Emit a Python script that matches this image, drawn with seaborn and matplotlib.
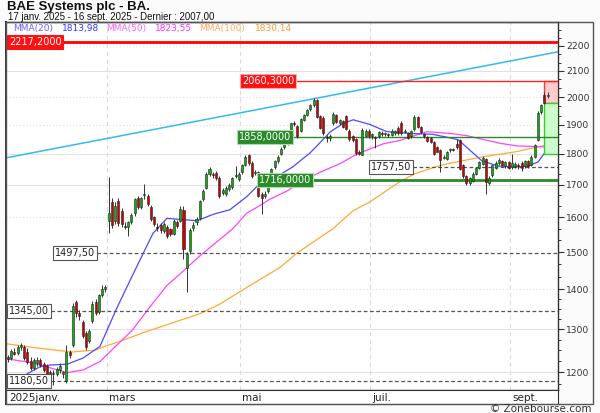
import numpy as np
import pandas as pd
import matplotlib
matplotlib.use("Agg")
import matplotlib.pyplot as plt
from matplotlib.patches import Rectangle
from matplotlib.ticker import FixedLocator, FuncFormatter, NullFormatter
import seaborn as sns

sns.set_style("white")
plt.rcParams['font.family'] = ['DejaVu Sans']

# daily candles, 17 janv. 2025 -> 16 sept. 2025 (trading day index 0..166)
opens = [1235, 1232, 1246, 1244, 1258, 1258, 1245, 1225, 1210, 1220,
         1228, 1218, 1214, 1200, 1195, 1196, 1205, 1195, 1180, 1245,
         1262, 1368, 1340, 1318, 1290, 1272, 1320, 1368, 1342, 1385,
         1400, 1588, 1645, 1590, 1650, 1620, 1575, 1572, 1585, 1612,
         1658, 1632, 1668, 1665, 1632, 1600, 1572, 1578, 1560, 1572,
         1566, 1552, 1585, 1590, 1623, 1455, 1502, 1568, 1585, 1598,
         1655, 1690, 1735, 1735, 1738, 1722, 1675, 1672, 1688, 1692,
         1728, 1718, 1740, 1765, 1795, 1770, 1738, 1741, 1672, 1665,
         1680, 1710, 1758, 1775, 1800, 1825, 1838, 1860, 1905, 1895,
         1880, 1918, 1935, 1955, 1970, 1990, 1930, 1925, 1858, 1855,
         1908, 1935, 1905, 1915, 1930, 1880, 1860, 1850, 1805, 1798,
         1862, 1880, 1860, 1858, 1860, 1872, 1868, 1868, 1866, 1872,
         1890, 1908, 1875, 1870, 1860, 1885, 1929, 1892, 1868, 1858,
         1855, 1841, 1822, 1812, 1788, 1783, 1812, 1815, 1835, 1848,
         1763, 1727, 1705, 1712, 1735, 1755, 1767, 1783, 1706, 1730,
         1755, 1770, 1775, 1760, 1772, 1758, 1760, 1765, 1770, 1760,
         1775, 1765, 1790, 1848, 1946, 2009, 2005]
highs = [1240, 1252, 1256, 1262, 1268, 1262, 1255, 1235, 1232, 1234,
         1232, 1222, 1218, 1205, 1205, 1212, 1220, 1202, 1262, 1250,
         1365, 1372, 1348, 1322, 1295, 1300, 1370, 1374, 1388, 1410,
         1412, 1723, 1660, 1645, 1660, 1628, 1585, 1590, 1612, 1660,
         1665, 1662, 1703, 1670, 1638, 1605, 1582, 1582, 1585, 1578,
         1570, 1595, 1592, 1633, 1633, 1500, 1570, 1585, 1602, 1652,
         1685, 1740, 1758, 1742, 1745, 1728, 1690, 1695, 1705, 1725,
         1760, 1740, 1768, 1795, 1800, 1775, 1748, 1745, 1678, 1680,
         1705, 1755, 1780, 1795, 1822, 1845, 1858, 1908, 1915, 1900,
         1925, 1940, 1958, 1975, 1997, 1995, 1935, 1930, 1865, 1868,
         1945, 1940, 1922, 1918, 1934, 1885, 1865, 1855, 1812, 1888,
         1885, 1885, 1872, 1862, 1880, 1878, 1876, 1872, 1885, 1882,
         1895, 1912, 1885, 1875, 1882, 1935, 1932, 1895, 1872, 1862,
         1858, 1845, 1826, 1816, 1795, 1810, 1820, 1820, 1851, 1852,
         1768, 1730, 1724, 1740, 1758, 1778, 1792, 1788, 1728, 1765,
         1775, 1785, 1780, 1776, 1776, 1800, 1772, 1770, 1775, 1780,
         1780, 1795, 1835, 1950, 1975, 2020, 2020]
lows = [1222, 1228, 1238, 1240, 1250, 1228, 1218, 1205, 1205, 1215,
        1212, 1200, 1190, 1185, 1172, 1192, 1198, 1188, 1176, 1232,
        1258, 1330, 1322, 1278, 1250, 1268, 1315, 1335, 1338, 1380,
        1392, 1553, 1570, 1580, 1575, 1572, 1565, 1545, 1580, 1605,
        1625, 1625, 1655, 1635, 1590, 1575, 1560, 1555, 1555, 1540,
        1545, 1548, 1570, 1585, 1480, 1394, 1495, 1560, 1578, 1592,
        1650, 1685, 1728, 1722, 1715, 1660, 1668, 1665, 1680, 1688,
        1722, 1712, 1735, 1760, 1765, 1722, 1730, 1662, 1610, 1658,
        1675, 1705, 1750, 1770, 1795, 1815, 1830, 1855, 1895, 1855,
        1875, 1912, 1930, 1948, 1965, 1925, 1885, 1865, 1841, 1845,
        1900, 1905, 1900, 1888, 1882, 1845, 1842, 1798, 1795, 1795,
        1858, 1855, 1852, 1820, 1855, 1862, 1860, 1858, 1862, 1865,
        1865, 1865, 1870, 1850, 1855, 1880, 1890, 1870, 1855, 1840,
        1838, 1798, 1805, 1741, 1782, 1780, 1808, 1810, 1815, 1748,
        1722, 1700, 1700, 1708, 1730, 1750, 1762, 1670, 1700, 1725,
        1750, 1765, 1760, 1755, 1750, 1752, 1755, 1752, 1745, 1755,
        1755, 1760, 1785, 1845, 1940, 1975, 1998]
closes = [1230, 1248, 1242, 1258, 1262, 1232, 1222, 1210, 1228, 1228,
          1216, 1205, 1194, 1192, 1198, 1208, 1215, 1200, 1246, 1240,
          1356, 1340, 1332, 1284, 1258, 1295, 1362, 1340, 1384, 1400,
          1406, 1612, 1578, 1635, 1582, 1580, 1572, 1585, 1608, 1655,
          1632, 1658, 1672, 1640, 1595, 1580, 1570, 1562, 1580, 1546,
          1552, 1588, 1575, 1625, 1508, 1495, 1564, 1578, 1595, 1648,
          1680, 1735, 1752, 1730, 1720, 1665, 1682, 1690, 1700, 1720,
          1732, 1735, 1764, 1790, 1770, 1727, 1742, 1665, 1660, 1672,
          1700, 1750, 1775, 1790, 1818, 1835, 1852, 1905, 1902, 1860,
          1920, 1935, 1954, 1970, 1990, 1929, 1890, 1870, 1855, 1862,
          1940, 1910, 1918, 1892, 1887, 1850, 1848, 1802, 1799, 1883,
          1880, 1860, 1868, 1855, 1875, 1868, 1872, 1864, 1880, 1878,
          1870, 1870, 1880, 1855, 1880, 1929, 1893, 1876, 1860, 1845,
          1842, 1800, 1808, 1780, 1790, 1807, 1815, 1814, 1825, 1751,
          1727, 1706, 1720, 1735, 1755, 1774, 1785, 1710, 1722, 1762,
          1770, 1780, 1765, 1772, 1755, 1770, 1768, 1760, 1755, 1775,
          1760, 1790, 1830, 1944, 1970, 1980, 2007]

# moving averages (day index, value)
ma20_day = [5.8, 9.8, 12.9, 18.2, 23.1, 28.3, 33.5, 38.5, 44.6, 48.9, 52.9, 58.2, 63.1,
            68.3, 73.5, 76.6, 80.6, 83.7, 87.7, 90.8, 92.9, 96, 99.1, 103.1, 106.2, 111.4,
            116.6, 123.7, 130.5, 135.4, 138.5, 145.8, 150.8, 156, 160, 163.1, 165.8]
ma20_val = [1196, 1212, 1216, 1218, 1232, 1259, 1352, 1440, 1553, 1597, 1594, 1590, 1609,
            1623, 1663, 1695, 1728, 1732, 1758, 1785, 1803, 1838, 1875, 1905, 1918, 1901,
            1876, 1870, 1867, 1856, 1848, 1777, 1760, 1757, 1760, 1774, 1813.98]
ma50_day = [0, 7.7, 12.9, 18.2, 23.1, 28.3, 33.5, 38.2, 43.7, 48.9, 52.9, 59.1, 63.1, 69.2,
            73.5, 76.6, 80.6, 85.8, 90.8, 96, 102.2, 107.4, 115.4, 120.6, 128.9, 136, 141.2,
            151.4, 156.6, 165.8]
ma50_val = [1230, 1221, 1210, 1199, 1205, 1224, 1262, 1297, 1355, 1410, 1440, 1490, 1520, 1567,
            1613, 1630, 1655, 1680, 1712, 1740, 1768, 1800, 1834, 1846, 1876, 1870, 1862,
            1836, 1827, 1823.55]
ma100_day = [-0.3, 9.2, 19.7, 26.8, 29.8, 34.5, 42.2, 59.1, 65.2, 74.5, 83.7, 88.9, 100,
             106.2, 111.4, 120.6, 125.2, 131.4, 135.4, 145.8, 156, 165.8]
ma100_val = [1265, 1255, 1246, 1250, 1259, 1271, 1293, 1338, 1362, 1410, 1458, 1497, 1567,
             1620, 1647, 1710, 1735, 1757, 1768, 1790, 1807, 1830.14]

trend_day = [-0.6, 169.2]
trend_val = [1787, 2176]

month_labels = ["2025janv.", "mars", "mai", "juil.", "sept."]
month_day = [0, 31, 72, 112, 155]

res_levels = [2217.2, 2060.3]
sup_levels = [1858.0, 1716.0]
dash_levels = [1757.5, 1497.5, 1345.0, 1180.5]
target_top, target_mid, target_low = 2060.3, 1978.0, 1800.0

W, H = 600, 413
def fx(px):
    return px / W
def fy(py):
    return 1 - py / H

df = pd.DataFrame({'open': opens, 'high': highs, 'low': lows, 'close': closes})
df['day'] = np.arange(len(df))
XMIN, XMAX = -0.6, 169.2

fig = plt.figure(figsize=(6.0, 4.13), dpi=100, facecolor='#fbfbfb')
ax = fig.add_axes([fx(6), fy(390), fx(552), 368 / H])
ax.set_facecolor('white')
ax.set_yscale('log')
ax.set_xlim(XMIN, XMAX)
ax.set_ylim(1161, 2300)

# grid
for p in [1200, 1300, 1700, 1800, 2100]:
    ax.axhline(p, color='#e2e2e2', lw=0.8, zorder=0)
for p in [1400, 1600, 1900, 2000, 2200]:
    ax.axhline(p, color='#efd6d6', lw=0.8, ls=(0, (1, 2)), zorder=0)
for d in month_day[1:]:
    ax.axvline(d - 0.5, color='#dcdcdc', lw=0.8, ls=(0, (4, 3)), zorder=0)

# trend line and moving averages
sns.lineplot(x=trend_day, y=trend_val, ax=ax, color='#33bbee', lw=1.1, zorder=2)
sns.lineplot(x=ma100_day, y=ma100_val, ax=ax, color='#ffaa33', lw=0.9, zorder=3)
sns.lineplot(x=ma50_day, y=ma50_val, ax=ax, color='#ff44ff', lw=0.9, zorder=3)
sns.lineplot(x=ma20_day, y=ma20_val, ax=ax, color='#4a4aff', lw=0.9, zorder=3)

# horizontal levels
ax.hlines(res_levels[0], XMIN, XMAX, color='#ff0000', lw=2, zorder=4)
ax.hlines(res_levels[1], 71.4, XMAX, color='#ff2222', lw=1, zorder=4)
ax.hlines(sup_levels[0], 70.5, XMAX, color='#2a8a2a', lw=1, zorder=4)
ax.hlines(sup_levels[1], 76.6, XMAX, color='#2a8a2a', lw=2, zorder=4)
dash_start = [111.1, 13.8, -0.3, -0.3]
for p, s in zip(dash_levels, dash_start):
    ax.hlines(p, s, XMAX, color='#555555', lw=0.9, ls=(0, (3, 2)), zorder=4)

# target boxes
ax.add_patch(Rectangle((164.8, target_mid), XMAX - 164.8, target_top - target_mid,
                       facecolor='#ffcccc', edgecolor='#ff3333', lw=1, zorder=3))
ax.add_patch(Rectangle((164.8, target_low), XMAX - 164.8, target_mid - target_low,
                       facecolor='#ccffcc', edgecolor='#33cc33', lw=1, zorder=3))

# candles
up = df['close'] >= df['open']
body_low = df[['open', 'close']].min(axis=1)
body_h = (df['close'] - df['open']).abs().clip(lower=2)
ax.vlines(df['day'], df['low'], df['high'], color='#333333', lw=0.7, zorder=5)
ax.bar(df['day'], body_h, bottom=body_low, width=0.62,
       color=np.where(up, '#11aa11', '#cc0000'), edgecolor='#222222', linewidth=0.4, zorder=6)

# level labels
def tag(day, price, text, bg, fg, ec):
    ax.text(day + 0.6, price, text, ha='left', va='center', fontsize=7, color=fg, zorder=8,
            bbox=dict(boxstyle='square,pad=0.2', facecolor=bg, edgecolor=ec, lw=0.8))

tag(-0.3, res_levels[0], "2217,2000", '#ff1111', 'white', '#ff1111')
tag(71.4, res_levels[1], "2060,3000", '#ff1111', 'white', '#ffaaaa')
tag(70.5, sup_levels[0], "1858,0000", '#2a8a2a', 'white', '#aaddaa')
tag(76.6, sup_levels[1], "1716,0000", '#2a8a2a', 'white', '#aaddaa')
for p, s in zip(dash_levels, dash_start):
    tag(s, p, f"{p:.2f}".replace('.', ','), 'white', '#222222', '#555555')

# axes cosmetics
ax.yaxis.tick_right()
ax.set_yticks([1200, 1300, 1400, 1500, 1600, 1700, 1800, 1900, 2000, 2100, 2200])
ax.yaxis.set_major_formatter(FuncFormatter(lambda v, p: f"{v:.0f}"))
minor = [1175, 1225, 1250, 1275, 1325, 1350, 1375, 1433, 1467, 1533, 1567, 1633, 1667,
         1733, 1767, 1833, 1867, 1933, 1967, 2033, 2067, 2133, 2167, 2233, 2267]
ax.yaxis.set_minor_locator(FixedLocator(minor))
ax.yaxis.set_minor_formatter(NullFormatter())
ax.tick_params(axis='y', which='major', length=4, width=0.8, labelsize=6.6, pad=2,
               labelcolor='#333333', color='#333333')
ax.tick_params(axis='y', which='minor', length=2.5, width=0.7, color='#333333')
ax.set_xticks([])
ax.set_xlabel("")
ax.set_ylabel("")
for s in ax.spines.values():
    s.set_color('#333333')
    s.set_linewidth(1)
ax.spines['left'].set_linewidth(1.4)

# month band
bax = fig.add_axes([fx(6), fy(404), fx(552), 14 / H])
bax.set_xlim(XMIN, XMAX)
bax.set_ylim(0, 1)
bax.set_xticks([])
bax.set_yticks([])
bax.set_facecolor('white')
for s in bax.spines.values():
    s.set_color('#333333')
bax.spines['left'].set_linewidth(1.4)
for lab, d in zip(month_labels, month_day):
    bax.text(d - 0.5 + (0.9 if d == 0 else 0.6), 0.45, lab, ha='left', va='center',
             fontsize=7.5, color='#222222')

fig.add_artist(Rectangle((fx(6), fy(404)), fx(587), 382 / H, transform=fig.transFigure,
                         fill=False, edgecolor='#555555', lw=1))

# legend of moving averages
legend_items = [("MMA(20)", 13, '#6666ff'), (f"{ma20_val[-1]:.2f}".replace('.', ','), 62, '#3333ff'),
                ("MMA(50)", 106, '#ff66ff'), (f"{ma50_val[-1]:.2f}".replace('.', ','), 155, '#ff33ff'),
                ("MMA(100)", 199, '#ffaa66'), (f"{ma100_val[-1]:.2f}".replace('.', ','), 255, '#ff9933')]
for txt, px, col in legend_items:
    fig.text(fx(px), fy(29), txt, ha='left', va='center', fontsize=6.5, color=col)

fig.text(fx(7), fy(10), "BAE Systems plc - BA.", fontsize=9.5, fontweight='bold',
         family=['Liberation Sans', 'DejaVu Sans'], va='baseline', color='#111111')
fig.text(fx(8), fy(20), "17 janv. 2025 - 16 sept. 2025 - Dernier : 2007,00", fontsize=6.9,
         family=['Liberation Sans', 'DejaVu Sans'], va='baseline', color='#111111')
fig.text(fx(592), fy(403.5), "© Zonebourse.com", ha='right', va='top', fontsize=7.5,
         color='#333333')

fig.savefig("out.png", dpi=100, facecolor=fig.get_facecolor())
